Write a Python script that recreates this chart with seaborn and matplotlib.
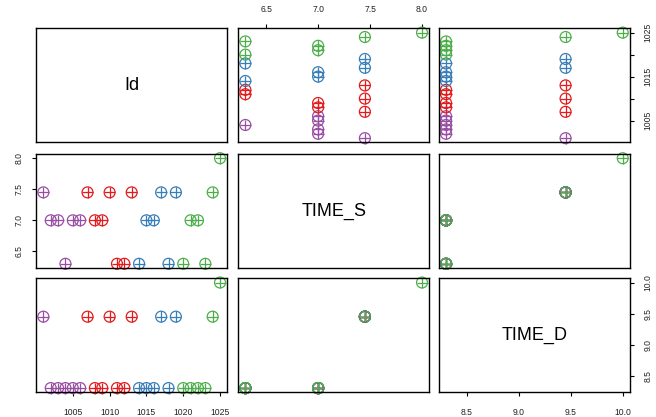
import numpy as np
import pandas as pd
import matplotlib
matplotlib.use("Agg")
import matplotlib.pyplot as plt
import seaborn as sns

# ---- data ----
ids = list(range(1001, 1026))
groups = ["g1"] * 6 + ["g2"] * 7 + ["g3"] * 6 + ["g4"] * 6
time_s = [7.45, 7.0, 7.0, 6.3, 7.0, 7.0,
          7.45, 7.0, 7.0, 7.45, 6.3, 6.3, 7.45,
          6.3, 7.0, 7.0, 7.45, 6.3, 7.45,
          6.3, 7.0, 7.0, 6.3, 7.45, 8.0]
time_d = [9.45, 8.3, 8.3, 8.3, 8.3, 8.3,
          9.45, 8.3, 8.3, 9.45, 8.3, 8.3, 9.45,
          8.3, 8.3, 8.3, 9.45, 8.3, 9.45,
          8.3, 8.3, 8.3, 8.3, 9.45, 10.0]
var_names = ["Id", "TIME_S", "TIME_D"]
group_colors = {"g1": "#984EA3", "g2": "#E41A1C", "g3": "#377EB8", "g4": "#4DAF4A"}
ticks = {
    "Id": [1005, 1010, 1015, 1020, 1025],
    "TIME_S": [6.5, 7.0, 7.5, 8.0],
    "TIME_D": [8.5, 9.0, 9.5, 10.0],
}
tick_labels = {
    "Id": ["1005", "1010", "1015", "1020", "1025"],
    "Id_side": ["1005", "", "1015", "", "1025"],
    "TIME_S": ["6.5", "7.0", "7.5", "8.0"],
    "TIME_D": ["8.5", "9.0", "9.5", "10.0"],
}

df = pd.DataFrame({"Id": ids, "TIME_S": time_s, "TIME_D": time_d, "group": groups})

sns.set_style("white")
plt.rcParams["font.family"] = ["Liberation Sans", "DejaVu Sans"]

W, H = 656, 417
fig = plt.figure(figsize=(W / 100, H / 100), dpi=100)

lefts = [36.3, 238.3, 439.0]
tops = [28.4, 154.0, 278.3]
pw, ph = 190.8, 114.0
msize = 62


def lims(v):
    v = np.asarray(v, dtype=float)
    r = v.max() - v.min()
    return v.min() - 0.04 * r, v.max() + 0.04 * r


def hollow(ax):
    coll = ax.collections[-1]
    cols = coll.get_facecolors()
    coll.set_edgecolors(cols)
    coll.set_facecolors("none")
    coll.set_linewidths(0.9)


tick_color = "#222222"
for i, yv in enumerate(var_names):
    for j, xv in enumerate(var_names):
        ax = fig.add_axes([lefts[j] / W, 1 - (tops[i] + ph) / H, pw / W, ph / H])
        ax.set_xlim(*lims(df[xv]))
        ax.set_ylim(*lims(df[yv]))
        if i == j:
            ax.text(0.5, 0.5, yv, transform=ax.transAxes, ha="center", va="center",
                    fontsize=13, color="black")
        else:
            sns.scatterplot(data=df, x=xv, y=yv, hue="group", palette=group_colors,
                            marker="o", s=msize, legend=False, ax=ax, clip_on=False)
            hollow(ax)
            sns.scatterplot(data=df, x=xv, y=yv, hue="group", palette=group_colors,
                            marker="+", s=msize, legend=False, ax=ax, clip_on=False)
            hollow(ax)
        ax.set_xlabel("")
        ax.set_ylabel("")
        for sp in ax.spines.values():
            sp.set_visible(True)
            sp.set_color("black")
            sp.set_linewidth(1.0)
        ax.set_xticks(ticks[xv])
        ax.set_yticks(ticks[yv])
        ax.tick_params(axis="both", which="both", bottom=False, top=False, left=False,
                       right=False, labelbottom=False, labeltop=False, labelleft=False,
                       labelright=False, direction="out", length=3.2, width=0.8,
                       color="black", labelsize=6.2, labelcolor=tick_color)
        # x axes
        if i == 0 and j % 2 == 1:
            ax.set_xticklabels(tick_labels[xv])
            ax.tick_params(axis="x", top=True, labeltop=True, pad=7)
        if i == 2 and j % 2 == 0:
            ax.set_xticklabels(tick_labels[xv])
            ax.tick_params(axis="x", bottom=True, labelbottom=True, pad=8)
        # y axes
        if j == 0 and i % 2 == 1:
            ax.set_yticklabels(tick_labels[yv])
            ax.tick_params(axis="y", left=True, labelleft=True, pad=6, labelrotation=90)
            for t in ax.get_yticklabels():
                t.set_va("center")
                t.set_ha("right")
        if j == 2 and i % 2 == 0:
            key = "Id_side" if yv == "Id" else yv
            ax.set_yticklabels(tick_labels[key])
            ax.tick_params(axis="y", right=True, labelright=True, pad=6.5, labelrotation=90)
            for t in ax.get_yticklabels():
                t.set_va("center")
                t.set_ha("left")

fig.savefig("out.png", dpi=100)
